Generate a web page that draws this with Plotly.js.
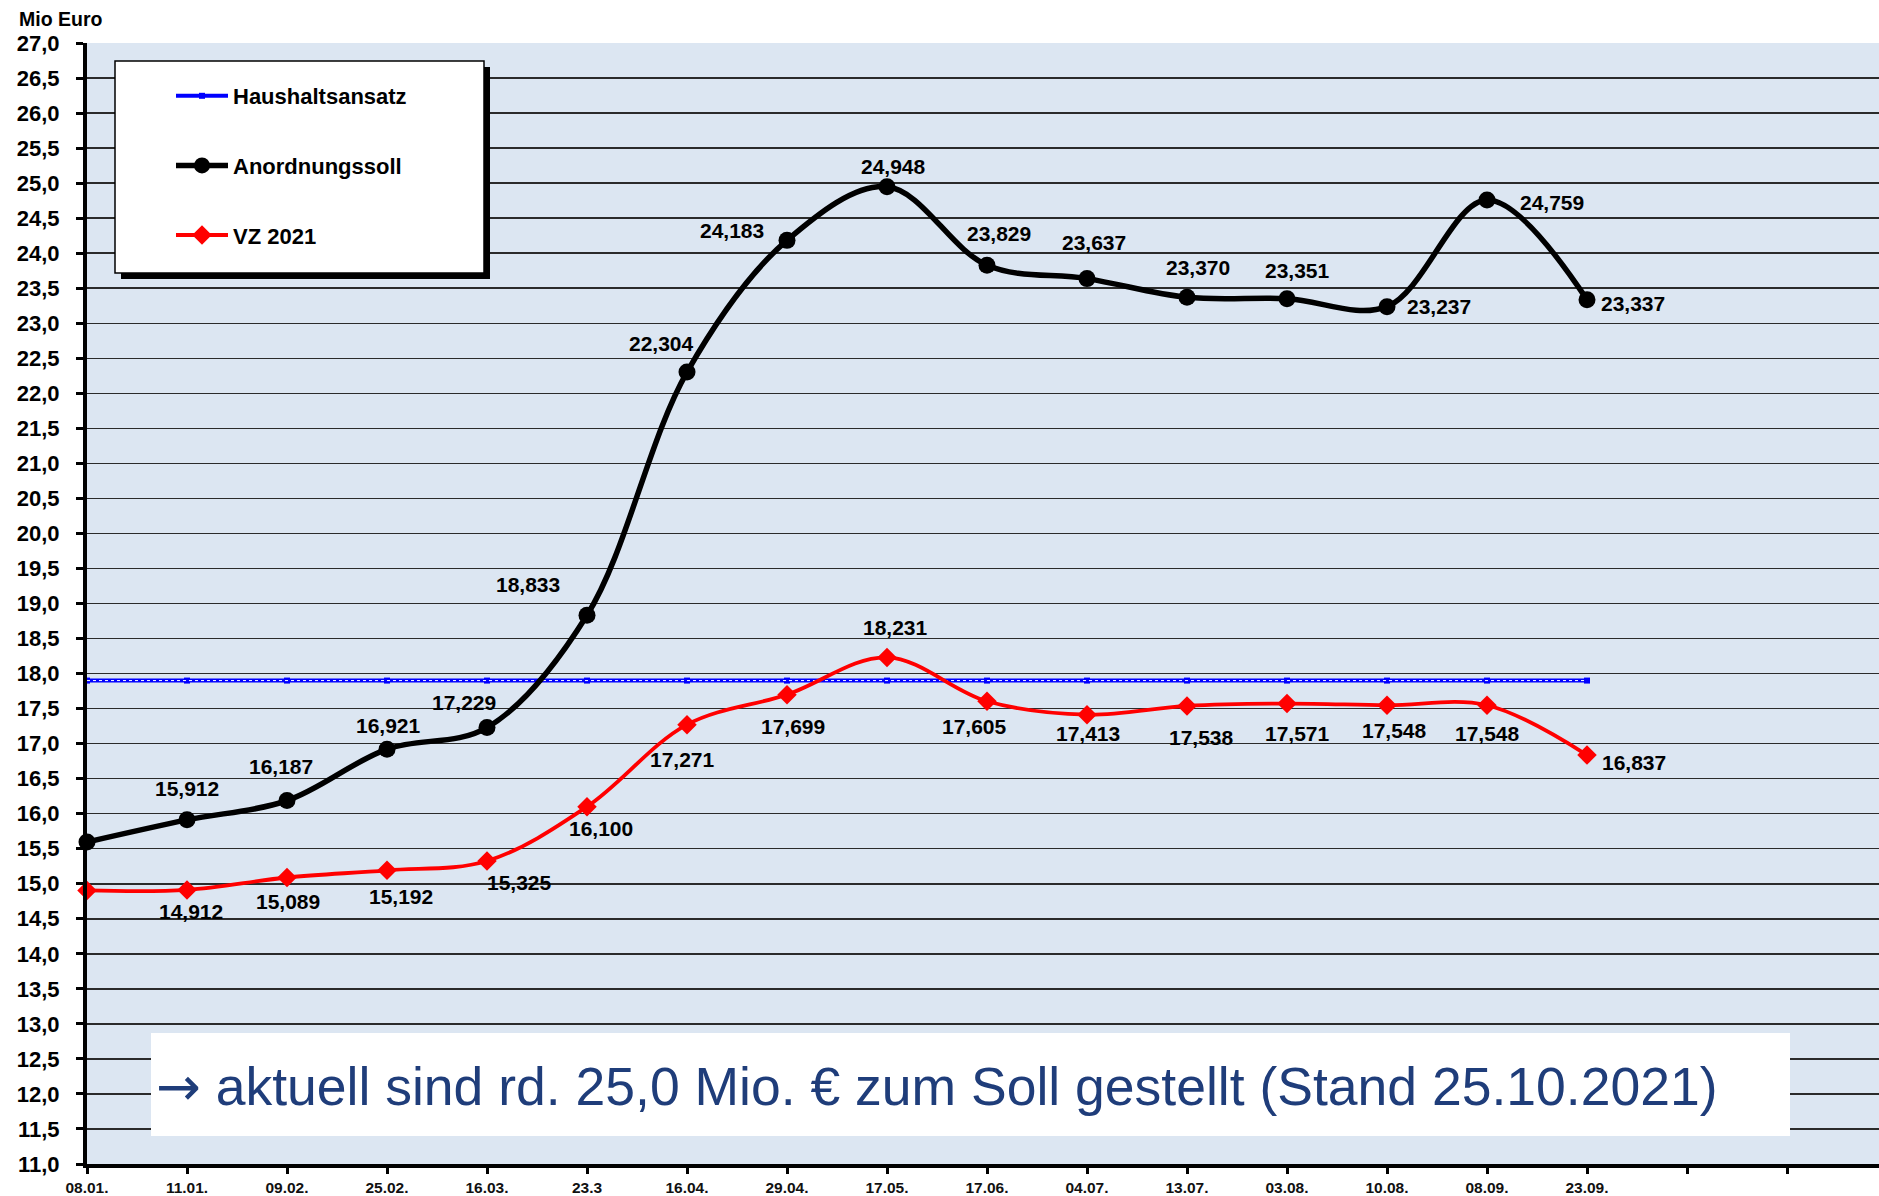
<!DOCTYPE html>
<html><head><meta charset="utf-8">
<script src="https://cdn.plot.ly/plotly-3.0.1.min.js"></script>
<style>html,body{margin:0;padding:0;background:#fff}#chart{width:1879px;height:1196px}</style>
</head><body><div id="chart"></div>
<script>
// ---- data ----
const dates = ['08.01.','11.01.','09.02.','25.02.','16.03.','23.3','16.04.','29.04.','17.05.','17.06.','04.07.','13.07.','03.08.','10.08.','08.09.','23.09.'];
const extraTickLabels = ['', ''];
const haushaltsansatz = [17.9,17.9,17.9,17.9,17.9,17.9,17.9,17.9,17.9,17.9,17.9,17.9,17.9,17.9,17.9,17.9];
const anordnungssoll = [15.596,15.912,16.187,16.921,17.229,18.833,22.304,24.183,24.948,23.829,23.637,23.370,23.351,23.237,24.759,23.337];
const vz2021 = [14.905,14.912,15.089,15.192,15.325,16.100,17.271,17.699,18.231,17.605,17.413,17.538,17.571,17.548,17.548,16.837];
const seriesNames = ['Haushaltsansatz','Anordnungssoll','VZ 2021'];
const yTitle = 'Mio Euro';
const noteArrow = '\u2192';
const noteText = 'aktuell sind rd. 25,0 Mio. \u20ac zum Soll gestellt (Stand 25.10.2021)';

// ---- label placement (pixel offsets, styling only) ----
const blackLabelOffsets = [null,[0,31],[-6,34],[1,24],[-23,25],[-59,31],[-26,29],[-55,10],[6,20],[12,32],[7,36],[11,30],[10,28],[52,0],[65,-2],[46,-4]];
const redLabelOffsets = [null,[4,-22],[1,-24],[14,-26],[32,-22],[14,-22],[-5,-35],[6,-32],[8,30],[-13,-25],[1,-19],[14,-32],[10,-30],[7,-25],[0,-28],[47,-7]];

const xIdx = dates.map((d,i)=>i);
const allTickText = dates.concat(extraTickLabels);
const allTickVals = allTickText.map((d,i)=>i);
const fmt = v => v.toFixed(3).replace('.', ',');

const traces = [
  {x:xIdx, y:haushaltsansatz, name:seriesNames[0], mode:'lines+markers', legendgroup:'a',
   line:{color:'#0000FF', width:4}, marker:{symbol:'square', size:6, color:'#0000FF'}, cliponaxis:false},
  {x:xIdx, y:haushaltsansatz, mode:'lines', showlegend:false, hoverinfo:'skip',
   line:{color:'#FFFFFF', width:1, dash:'dot'}, cliponaxis:false},
  {x:xIdx, y:anordnungssoll, name:seriesNames[1], mode:'lines+markers', legendgroup:'b',
   line:{color:'#000000', width:5.5, shape:'spline', smoothing:1}, marker:{symbol:'circle', size:17, color:'#000000'}, cliponaxis:false},
  {x:xIdx, y:vz2021, name:seriesNames[2], mode:'lines+markers', legendgroup:'c',
   line:{color:'#FF0000', width:3.8, shape:'spline', smoothing:1}, marker:{symbol:'diamond', size:15, color:'#FF0000'}, cliponaxis:false}
];

const labelFont = {family:'Liberation Sans, Arial, sans-serif', size:21, color:'#000', weight:'bold'};
const annotations = [];
anordnungssoll.forEach((v,i)=>{
  const o = blackLabelOffsets[i]; if(!o) return;
  annotations.push({x:i, y:v, xref:'x', yref:'y', text:'<b>'+fmt(v)+'</b>', showarrow:false, xshift:o[0], yshift:o[1], font:labelFont});
});
vz2021.forEach((v,i)=>{
  const o = redLabelOffsets[i]; if(!o) return;
  annotations.push({x:i, y:v, xref:'x', yref:'y', text:'<b>'+fmt(v)+'</b>', showarrow:false, xshift:o[0], yshift:o[1], font:labelFont});
});
annotations.push({xref:'paper', yref:'paper', x:-0.039, y:1.033, xanchor:'left', yanchor:'top', showarrow:false,
  text:'<b>'+yTitle+'</b>', font:{family:'Liberation Sans, Arial, sans-serif', size:19.5, color:'#000'}});
annotations.push({xref:'paper', yref:'paper', x:0.0375, y:0.0687, xanchor:'left', yanchor:'middle', showarrow:false,
  text:'<span style="font-family:\'DejaVu Sans\'">'+noteArrow+'</span> '+noteText,
  font:{family:'Liberation Sans, Arial, sans-serif', size:53.5, color:'#1F3D7A'}});

const W = 1792, H = 1121;
const px = p => (p-87)/W, py = p => 1-(p-43)/H;
const shapes = [
  // legend shadow & box
  {type:'rect', xref:'paper', yref:'paper', x0:px(121), x1:px(490), y0:py(279), y1:py(67), fillcolor:'#000', line:{width:0}, layer:'above'},
  {type:'rect', xref:'paper', yref:'paper', x0:px(115), x1:px(484), y0:py(273), y1:py(61), fillcolor:'#fff', line:{color:'#000', width:1.5}, layer:'above'},
  // note box
  {type:'rect', xref:'paper', yref:'paper', x0:px(151), x1:px(1790), y0:py(1136), y1:py(1033), fillcolor:'#fff', line:{width:0}, layer:'above'}
];

const layout = {
  width:1879, height:1196,
  margin:{l:87, r:0, t:43, b:32},
  paper_bgcolor:'#ffffff', plot_bgcolor:'#DCE6F2',
  separators:',.',
  showlegend:true,
  legend:{x:px(171), y:py(75), xanchor:'left', yanchor:'top', bgcolor:'rgba(0,0,0,0)', borderwidth:0,
    traceorder:'grouped', tracegroupgap:38, itemwidth:52,
    font:{family:'Liberation Sans, Arial, sans-serif', size:22, color:'#000', weight:'bold'}},
  xaxis:{range:[0, 17.92], tickmode:'array', tickvals:allTickVals, ticktext:allTickText,
    showgrid:false, zeroline:false, showline:true, linecolor:'#000', linewidth:4,
    ticks:'outside', ticklen:6, tickwidth:3, tickcolor:'#000', ticklabelstandoff:0,
    tickfont:{family:'Liberation Sans, Arial, sans-serif', size:15.5, color:'#111', weight:'bold'}},
  yaxis:{range:[11, 27], dtick:0.5, tick0:11, tickformat:'.1f',
    showgrid:true, gridcolor:'#2b2b2b', gridwidth:1.5, zeroline:false,
    showline:true, linecolor:'#000', linewidth:4,
    ticks:'outside', ticklen:7, tickwidth:3, tickcolor:'#000', ticklabelstandoff:12,
    tickfont:{family:'Liberation Sans, Arial, sans-serif', size:22, color:'#000', weight:'bold'}},
  shapes:shapes,
  annotations:annotations
};

Plotly.newPlot('chart', traces, layout, {displayModeBar:false, staticPlot:true});
</script></body></html>
